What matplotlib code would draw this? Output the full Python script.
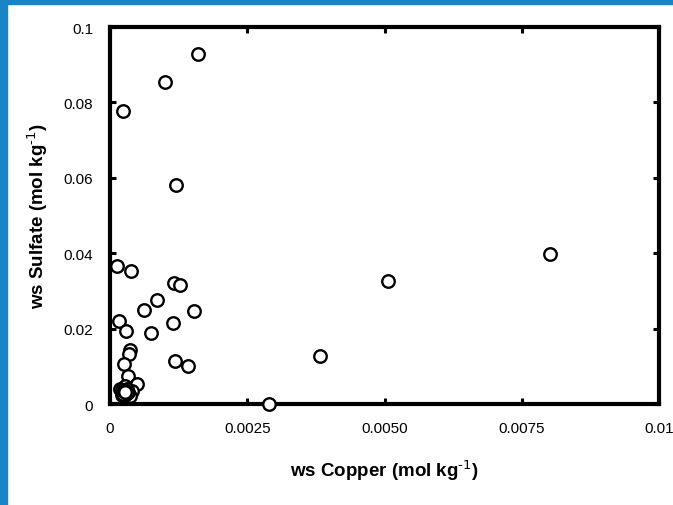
import matplotlib
matplotlib.use('Agg')
import matplotlib.pyplot as plt
from matplotlib.patches import Rectangle

plt.rcParams['font.family'] = ['Liberation Sans', 'DejaVu Sans']
plt.rcParams['mathtext.default'] = 'regular'

# --- data --- #
copper = [0.00160, 0.00100, 0.00024, 0.00120, 0.00801, 0.00506, 0.00013, 0.00038,
          0.00117, 0.00128, 0.00086, 0.00062, 0.00153, 0.00016, 0.00115, 0.00029,
          0.00075, 0.00036, 0.00035, 0.00383, 0.00118, 0.00142, 0.00026, 0.00033,
          0.00027, 0.00049, 0.00290,
          0.00018, 0.00025, 0.00033, 0.00040, 0.00029, 0.00022, 0.00036, 0.00031,
          0.00024, 0.00027, 0.00030, 0.00021, 0.00028, 0.00032, 0.00026, 0.00023,
          0.00029, 0.00025, 0.00031, 0.00027]
sulfate = [0.0928, 0.0854, 0.0777, 0.0581, 0.0398, 0.0326, 0.0366, 0.0353,
           0.0321, 0.0316, 0.0276, 0.0249, 0.0247, 0.0220, 0.0215, 0.0194,
           0.0188, 0.0143, 0.0133, 0.0127, 0.0114, 0.0101, 0.0106, 0.0074,
           0.0048, 0.0053, 0.0000,
           0.0040, 0.0032, 0.0027, 0.0035, 0.0022, 0.0024, 0.0020, 0.0040,
           0.0030, 0.0034, 0.0029, 0.0036, 0.0025, 0.0033, 0.0038, 0.0027,
           0.0031, 0.0035, 0.0028, 0.0032]

x_ticks = [0, 0.0025, 0.0050, 0.0075, 0.01]
x_tick_labels = ['0', '0.0025', '0.0050', '0.0075', '0.01']
y_ticks = [0, 0.02, 0.04, 0.06, 0.08, 0.1]
y_tick_labels = ['0', '0.02', '0.04', '0.06', '0.08', '0.1']

fig = plt.figure(figsize=(6.73, 5.06), dpi=100)
# blue frame strips on top and left
fig.patches.append(Rectangle((0, 0.99), 1, 0.01, transform=fig.transFigure,
                             color='#1B84C6', zorder=0))
fig.patches.append(Rectangle((0, 0), 0.0105, 1, transform=fig.transFigure,
                             color='#1B84C6', zorder=0))

ax = fig.add_axes([0.1635, 0.1996, 0.8157, 0.745])
ax.plot(copper, sulfate, linestyle='none', marker='o', markersize=9,
        markerfacecolor='white', markeredgecolor='black', markeredgewidth=1.7,
        clip_on=False, zorder=3)

ax.set_xlim(0, 0.01)
ax.set_ylim(0, 0.1)
ax.set_xticks(x_ticks)
ax.set_xticklabels(x_tick_labels)
ax.set_yticks(y_ticks)
ax.set_yticklabels(y_tick_labels)
ax.tick_params(direction='in', length=4, width=2.2, top=True, right=True,
               labelsize=11, pad=12)

for side in ax.spines.values():
    side.set_linewidth(3)

ax.set_xlabel(r'ws Copper (mol kg$^{\text{-1}}$)', fontsize=13.5, fontweight='bold', labelpad=16)
ax.set_ylabel(r'ws Sulfate (mol kg$^{\text{-1}}$)', fontsize=13.5, fontweight='bold', labelpad=10)

plt.savefig('out.png', dpi=100)
plt.close()
